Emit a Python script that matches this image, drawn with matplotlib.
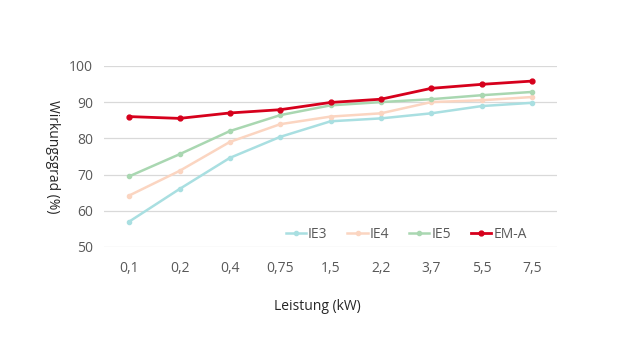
import matplotlib.pyplot as plt

plt.rcParams['font.family'] = ['Open Sans', 'DejaVu Sans']

categories = ["0,1", "0,2", "0,4", "0,75", "1,5", "2,2", "3,7", "5,5", "7,5"]
ie3 = [57.0, 66.0, 74.6, 80.4, 84.7, 85.5, 86.9, 88.9, 89.8]
ie4 = [64.2, 71.0, 79.0, 83.9, 86.0, 86.9, 90.0, 90.5, 91.4]
ie5 = [69.5, 75.6, 82.0, 86.4, 89.1, 90.0, 90.8, 91.9, 92.8]
em_a = [86.0, 85.5, 87.0, 87.9, 89.9, 90.8, 93.8, 94.9, 95.8]

fig = plt.figure(figsize=(6.4, 3.6), dpi=100)
ax = fig.add_axes([0.1625, 0.314, 0.708, 0.503])

x = range(len(categories))
ax.plot(x, ie3, color="#a9dfe1", lw=1.8, marker="o", ms=3, label="IE3")
ax.plot(x, ie4, color="#fbd5c1", lw=1.8, marker="o", ms=3, label="IE4")
ax.plot(x, ie5, color="#a9d7b1", lw=1.8, marker="o", ms=3, label="IE5")
ax.plot(x, em_a, color="#d6001c", lw=2.0, marker="o", ms=3.5, label="EM-A")

ax.set_xlim(-0.5, len(categories) - 0.5)
ax.set_ylim(50, 100)
ax.set_yticks([50, 60, 70, 80, 90, 100])
ax.set_xticks(list(x))
ax.set_xticklabels(categories)
ax.grid(axis="y", color="#d9d9d9", lw=0.9)
ax.set_axisbelow(True)
for s in ax.spines.values():
    s.set_visible(False)
ax.tick_params(length=0, labelsize=10, labelcolor="#595959", pad=10)
ax.tick_params(axis="y", pad=8)

ax.set_xlabel("Leistung (kW)", fontsize=10, color="#262626")
ax.xaxis.set_label_coords(0.47, -0.29)
ax.set_ylabel("Wirkungsgrad (%)", fontsize=10, color="#262626", rotation=-90)
ax.yaxis.set_label_coords(-0.13, 0.5)

ax.legend(loc="center", ncol=4, frameon=False, fontsize=10,
          handlelength=1.45, handletextpad=0.15, columnspacing=1.45,
          labelcolor="#595959", bbox_to_anchor=(0.667, 0.07))

plt.savefig("out.png", dpi=100)
